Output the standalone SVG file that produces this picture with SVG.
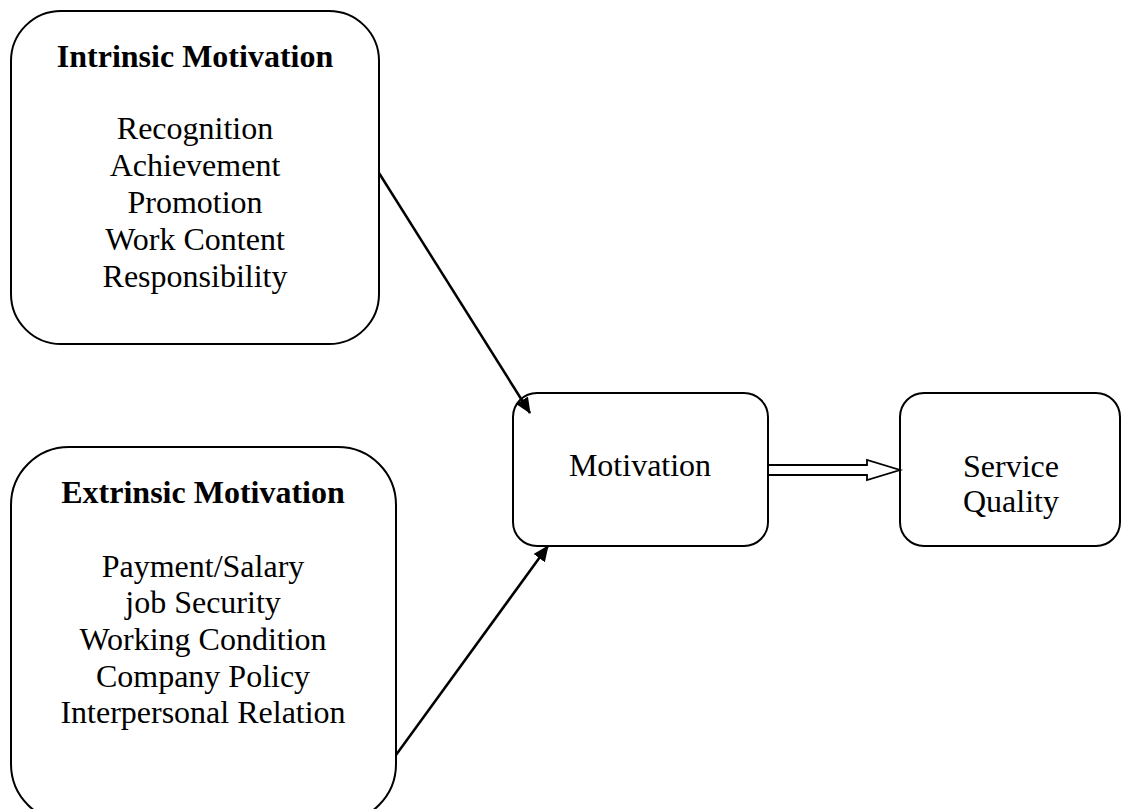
<svg xmlns="http://www.w3.org/2000/svg" width="1122" height="809" viewBox="0 0 1122 809">
<style>
.box{fill:#fff;stroke:#000;stroke-width:2}
text{font-family:"Liberation Serif","Times New Roman",serif;fill:#000;text-anchor:middle}
.t{font-size:32px;font-weight:bold}
.b{font-size:32px}
.c{stroke:#000;stroke-width:2.5;fill:none}
</style>
<defs>
<marker id="ah" markerWidth="16" markerHeight="14" refX="15" refY="7" orient="auto" markerUnits="userSpaceOnUse">
<path d="M0,0 L16,7 L0,14 Z" fill="#000"/>
</marker>
</defs>
<rect width="1122" height="809" fill="#fff"/>
<g id="intrinsic">
<rect class="box" x="11" y="11" width="368" height="333" rx="50" ry="50"/>
<text class="t" x="195" y="67">Intrinsic Motivation</text>
<text class="b" x="195" y="139">Recognition</text>
<text class="b" x="195" y="176">Achievement</text>
<text class="b" x="195" y="213">Promotion</text>
<text class="b" x="195" y="250">Work Content</text>
<text class="b" x="195" y="287">Responsibility</text>
</g>
<g id="extrinsic">
<rect class="box" x="11" y="447" width="385" height="375" rx="58" ry="58"/>
<text class="t" x="203" y="503">Extrinsic Motivation</text>
<text class="b" x="203" y="577">Payment/Salary</text>
<text class="b" x="203" y="613">job Security</text>
<text class="b" x="203" y="650">Working Condition</text>
<text class="b" x="203" y="687">Company Policy</text>
<text class="b" x="203" y="723">Interpersonal Relation</text>
</g>
<g id="motivation">
<rect class="box" x="513" y="393" width="255" height="153" rx="24" ry="24"/>
<text class="b" x="640" y="476">Motivation</text>
</g>
<g id="service">
<rect class="box" x="900" y="393" width="220" height="153" rx="24" ry="24"/>
<text class="b" x="1011" y="477">Service</text>
<text class="b" x="1011" y="512">Quality</text>
</g>
<g id="connectors">
<line class="c" x1="379" y1="173" x2="530" y2="413" marker-end="url(#ah)"/>
<line class="c" x1="396" y1="755" x2="548" y2="546" marker-end="url(#ah)"/>
<path d="M769,465 H867 V460 L900,470 L867,480 V475 H769" fill="#fff" stroke="#000" stroke-width="1.8"/>
</g>
</svg>
